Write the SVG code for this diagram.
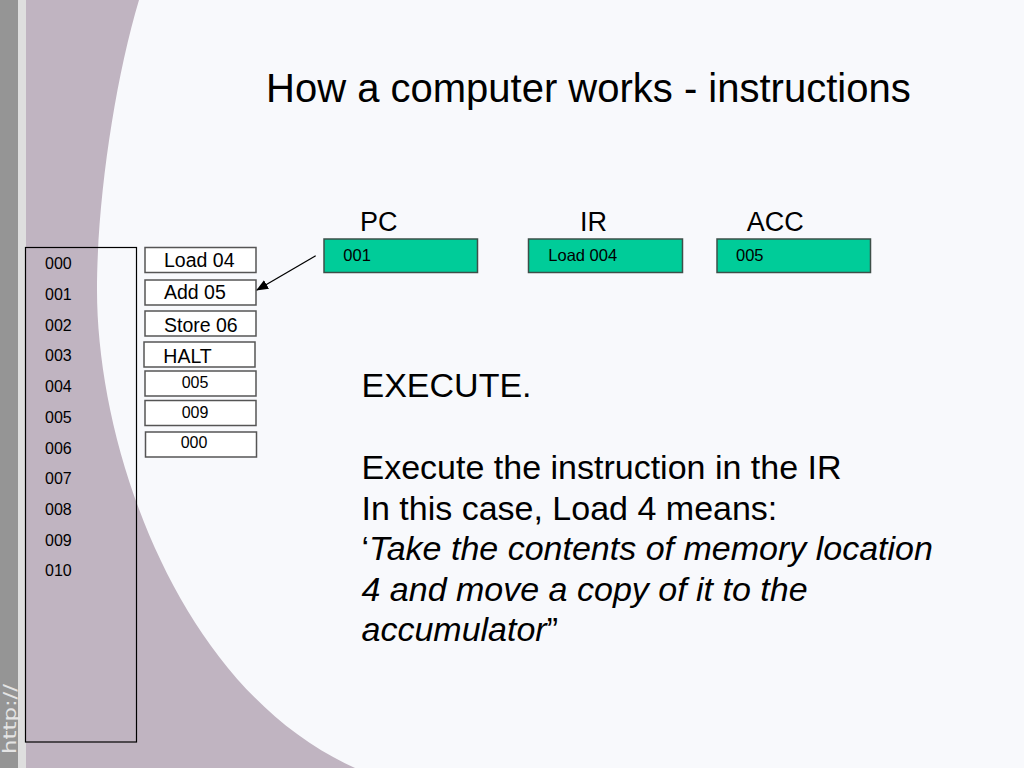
<svg xmlns="http://www.w3.org/2000/svg" width="1024" height="768" viewBox="0 0 1024 768">
<defs>
<style>
text{font-family:"Liberation Sans",Arial,sans-serif;fill:#000}
.mem{font-size:16px}
.ins{fill:#ffffff;stroke:#555;stroke-width:1.5}
.inst{font-size:19.5px}
.val{font-size:16px}
.reg{fill:#00cc99;stroke:#3d4f48;stroke-width:1.5}
.regl{font-size:27px}
.regt{font-size:16.5px}
.body{font-size:34px}
</style>
<marker id="ah" markerWidth="12" markerHeight="10" refX="11" refY="5" orient="auto" markerUnits="userSpaceOnUse">
<path d="M0,0 L12,5 L0,10 Z" fill="#000"/>
</marker>
</defs>
<g id="background">
<rect x="0" y="0" width="1024" height="768" fill="#f8f9fc"/>
<path d="M26,0 L139,0 C115,80 97,200 97,290 C97,450 180,690 355,768 L26,768 Z" fill="#c0b4c1"/>
<rect x="0" y="0" width="18" height="768" fill="#959595"/>
<rect x="18" y="0" width="8" height="768" fill="#dedede"/>
<text transform="translate(16,754) rotate(-90)" style="font-family:'DejaVu Sans',sans-serif;font-size:18px;fill:#e4e4e4" textLength="70" lengthAdjust="spacingAndGlyphs">http://</text>
</g>
<g id="title">
<text x="266" y="102" style="font-size:40px">How a computer works - instructions</text>
</g>
<g id="memory">
<rect x="25.5" y="247.5" width="111" height="494.5" fill="none" stroke="#000" stroke-width="1.2"/>
<text class="mem" x="45" y="269.3">000</text>
<text class="mem" x="45" y="300">001</text>
<text class="mem" x="45" y="330.7">002</text>
<text class="mem" x="45" y="361.4">003</text>
<text class="mem" x="45" y="392.1">004</text>
<text class="mem" x="45" y="422.8">005</text>
<text class="mem" x="45" y="453.5">006</text>
<text class="mem" x="45" y="484.2">007</text>
<text class="mem" x="45" y="514.9">008</text>
<text class="mem" x="45" y="545.6">009</text>
<text class="mem" x="45" y="576.3">010</text>
</g>
<g id="cell-load04">
<rect class="ins" x="145" y="247.5" width="111" height="25"/>
<text class="inst" x="164" y="266.7">Load 04</text>
</g>
<g id="cell-add05">
<rect class="ins" x="145" y="280" width="111" height="25"/>
<text class="inst" x="164" y="299.3">Add 05</text>
</g>
<g id="cell-store06">
<rect class="ins" x="145" y="311" width="111" height="25"/>
<text class="inst" x="164" y="331.7">Store 06</text>
</g>
<g id="cell-halt">
<rect class="ins" x="144" y="342" width="111" height="25"/>
<text class="inst" x="163.3" y="362.7">HALT</text>
</g>
<g id="cell-005">
<rect class="ins" x="145" y="371" width="111" height="25"/>
<text class="val" x="181.7" y="388.3">005</text>
</g>
<g id="cell-009">
<rect class="ins" x="145" y="400.5" width="111" height="25"/>
<text class="val" x="181.7" y="418.3">009</text>
</g>
<g id="cell-000">
<rect class="ins" x="145.5" y="432" width="111" height="25"/>
<text class="val" x="180.7" y="448.3">000</text>
</g>
<g id="reg-pc">
<text class="regl" x="360" y="230.7">PC</text>
<rect class="reg" x="324" y="239" width="153.5" height="33.5"/>
<text class="regt" x="343.3" y="261">001</text>
</g>
<g id="reg-ir">
<text class="regl" x="580" y="230.7">IR</text>
<rect class="reg" x="528.5" y="239" width="154" height="33.5"/>
<text class="regt" x="548.3" y="261">Load 004</text>
</g>
<g id="reg-acc">
<text class="regl" x="746.7" y="230.7">ACC</text>
<rect class="reg" x="717" y="239" width="153.5" height="33.5"/>
<text class="regt" x="736" y="261">005</text>
</g>
<g id="connectors">
<line x1="315.7" y1="255.7" x2="257" y2="290" stroke="#000" stroke-width="1.3" marker-end="url(#ah)"/>
</g>
<g id="explanation">
<text class="body" x="361.5" y="396.7">EXECUTE.</text>
<text class="body" x="361.5" y="479">Execute the instruction in the IR</text>
<text class="body" x="361.5" y="519.5">In this case, Load 4 means:</text>
<text class="body" x="361.5" y="560">‘<tspan font-style="italic">Take the contents of memory location</tspan></text>
<text class="body" x="361.5" y="600.5" font-style="italic">4 and move a copy of it to the</text>
<text class="body" x="361.5" y="641"><tspan font-style="italic">accumulator</tspan>”</text>
</g>
</svg>
